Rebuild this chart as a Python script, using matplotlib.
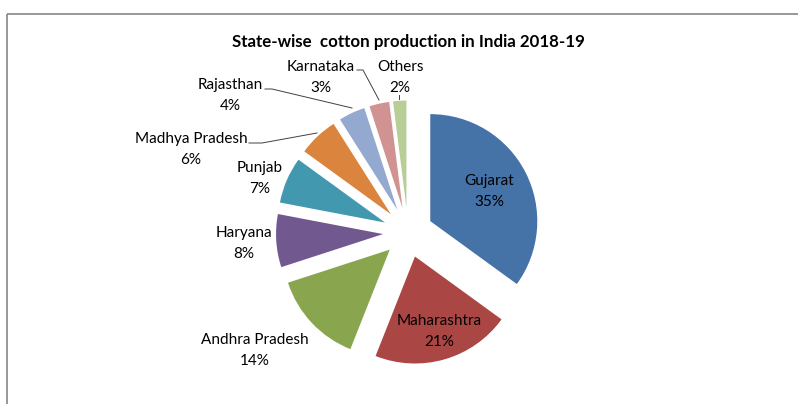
import matplotlib
matplotlib.use("Agg")
import matplotlib.pyplot as plt

# ---- data ----
states = ["Gujarat", "Maharashtra", "Andhra Pradesh", "Haryana", "Punjab",
          "Madhya Pradesh", "Rajasthan", "Karnataka", "Others"]
shares = [35, 21, 14, 8, 7, 6, 4, 3, 2]
colors = ["#4572A7", "#AA4643", "#89A54E", "#71588F", "#4198AF",
          "#DB843D", "#93A9CF", "#D19392", "#B9CD96"]
title = "State-wise  cotton production in India 2018-19"

# ---- layout (pixel coordinates, y measured from top) ----
W, H = 798, 404
FONT = "Lato"
center_px = (408, 232.5)
radius_px = 107
explode_px = 25
label_pos = {  # (x centre, baseline of first line)
    "Gujarat": (489, 185),
    "Maharashtra": (439, 325),
    "Andhra Pradesh": (255, 344),
    "Haryana": (244, 237),
    "Punjab": (260, 172),
    "Madhya Pradesh": (191, 143),
    "Rajasthan": (230, 89),
    "Karnataka": (321, 71),
    "Others": (400, 71),
}
leaders = {
    "Rajasthan": [(265, 89), (272, 89), (352, 108)],
    "Madhya Pradesh": [(249, 143), (262, 143), (317, 133)],
    "Karnataka": [(357, 70), (363, 70), (379, 100)],
    "Others": [(399, 95), (399, 99)],
}
line_gap = 21

fig = plt.figure(figsize=(W / 100, H / 100), dpi=100)
ax = fig.add_axes([0, 0, 1, 1])


def Y(y):
    return H - y


ax.pie(shares, colors=colors, startangle=90, counterclock=False,
       explode=[explode_px] * len(shares),
       center=(center_px[0], Y(center_px[1])), radius=radius_px,
       wedgeprops=dict(linewidth=0), frame=True)
ax.set_xlim(0, W)
ax.set_ylim(0, H)
ax.set_aspect("equal")
ax.axis("off")

# border
ax.plot([6.5, W], [Y(14), Y(14)], color="#868686", lw=1.2, solid_capstyle="butt")
ax.plot([6.5, 6.5], [Y(14), 0], color="#868686", lw=1.2, solid_capstyle="butt")

# title
ax.text(408, Y(47), title, ha="center", va="baseline", fontsize=12.2,
        fontweight="bold", family=FONT, color="black")

# labels
for name, val in zip(states, shares):
    x, yb = label_pos[name]
    ax.text(x, Y(yb), name, ha="center", va="baseline", fontsize=11,
            family=FONT, color="black")
    ax.text(x, Y(yb + line_gap), f"{val}%", ha="center", va="baseline",
            fontsize=11, family=FONT, color="black")

for name, pts in leaders.items():
    xs = [p[0] for p in pts]
    ys = [Y(p[1]) for p in pts]
    ax.plot(xs, ys, color="#404040", lw=0.7)

fig.savefig("out.png", dpi=100)
